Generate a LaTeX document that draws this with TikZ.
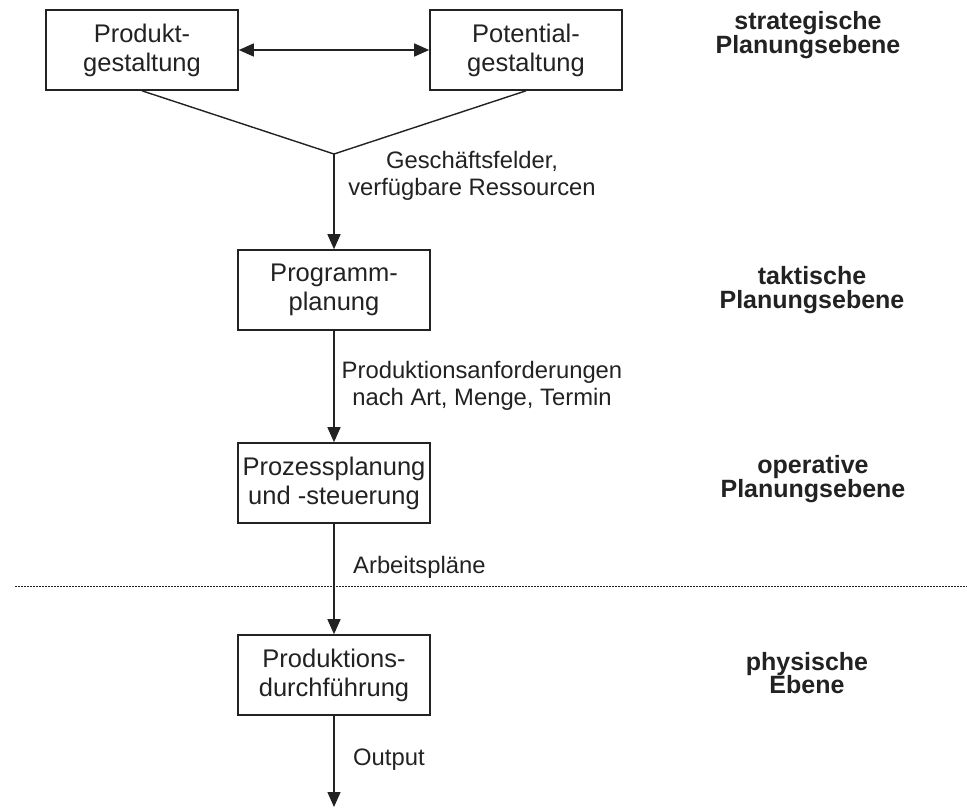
\documentclass[tikz,border=0pt]{standalone}
\usepackage{fontspec}
\setmainfont{Liberation Sans}
\usetikzlibrary{arrows.meta}
\definecolor{ink}{HTML}{222222}
\tikzset{
  boxnode/.style={draw=ink, line width=1.6pt, minimum width=192pt, minimum height=80pt,
    inner sep=0pt, align=center, text=ink, font=\fontsize{25.5}{29}\selectfont},
  lbl/.style={align=center, text=ink, inner sep=0pt, font=\fontsize{23.8}{27}\selectfont},
  lvl/.style={align=center, text=ink, inner sep=0pt, font=\bfseries\fontsize{25}{23.5}\selectfont},
  conn/.style={draw=ink, line width=1.4pt},
  arr/.style={conn, -{Triangle[length=15pt,width=13pt]}},
  darr/.style={conn, {Triangle[length=15pt,width=13pt]}-{Triangle[length=15pt,width=13pt]}}
}
\begin{document}
\begin{tikzpicture}[x=1pt,y=-1pt]
\useasboundingbox (0,0) rectangle (967,807);
% boxes
\node[boxnode] (prod) at (142,50) {Produkt-\\gestaltung};
\node[boxnode] (pot) at (526,50) {Potential-\\gestaltung};
\node[boxnode] (prog) at (334,290) {Programm-\\planung};
\node[boxnode] (proz) at (334,483) {Prozessplanung\\und -steuerung};
\node[boxnode] (durch) at (334,675) {Produktions-\\durchführung};
\coordinate (join) at (334,154);
\coordinate (outend) at (334,807);
\coordinate (dotl) at (15,586);
\coordinate (dotr) at (967,586);
% connectors
\draw[darr] (prod.east) -- (pot.west);
\draw[conn] (prod.south) -- (join) -- (pot.south);
\draw[arr] (join) -- (prog.north);
\draw[arr] (prog.south) -- (proz.north);
\draw[arr] (proz.south) -- (durch.north);
\draw[arr] (durch.south) -- (outend);
\draw[draw=ink, line width=1pt, dash pattern=on 1.5pt off 1.5pt] (dotl) -- (dotr);
% labels
\node[lbl] (l1) at (472,176) {Geschäftsfelder,\\verfügbare Ressourcen};
\node[lbl] (l2) at (482,386) {Produktionsanforderungen\\nach Art, Menge, Termin};
\node[lbl, anchor=west] (l3) at (353,567) {Arbeitspläne};
\node[lbl, anchor=west] (l4) at (353,760) {Output};
% levels
\node[lvl] (v1) at (808,35) {strategische\\Planungsebene};
\node[lvl] (v2) at (812,290) {taktische\\Planungsebene};
\node[lvl] (v3) at (813,479) {operative\\Planungsebene};
\node[lvl] (v4) at (807,673) {physische\\Ebene};
\end{tikzpicture}
\end{document}
